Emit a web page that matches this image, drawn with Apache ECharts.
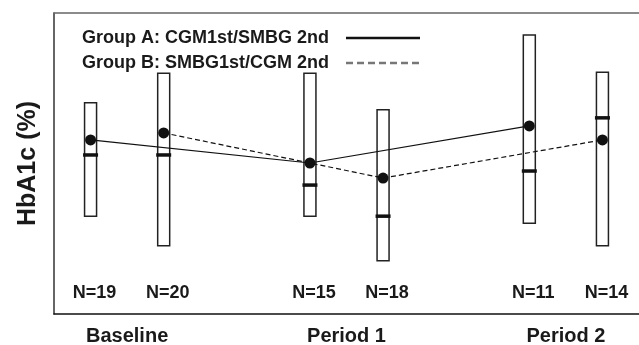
<!DOCTYPE html>
<html>
<head>
<meta charset="utf-8">
<script src="https://cdn.jsdelivr.net/npm/echarts@6/dist/echarts.min.js"></script>
<style>
  html, body { margin: 0; padding: 0; background: #fff; }
  #chart-ctn { width: 639px; height: 345px; }
</style>
</head>
<body>
<div id="chart-ctn"></div>
<script>
// x positions of the six boxes (baseline / period 1 / period 2, two groups each)
var positions = [1, 2, 4, 5, 7, 8];
var groups = ['A', 'B', 'A', 'B', 'A', 'B'];
var boxLow = [6.95, 6.36, 6.95, 6.06, 6.81, 6.36];
var boxHigh = [9.21, 9.80, 9.80, 9.07, 10.56, 9.82];
var medians = [8.17, 8.17, 7.57, 6.95, 7.85, 8.91];
var means = [8.47, 8.61, 8.01, 7.71, 8.75, 8.47];
var nCounts = [19, 20, 15, 18, 11, 14];

var periodTicks = [1.5, 4.5, 7.5];
var periodLabels = ['Baseline', 'Period 1', 'Period 2'];

var nameA = 'Group A: CGM1st/SMBG 2nd';
var nameB = 'Group B: SMBG1st/CGM 2nd';
var nLabelLevel = 5.42;

var font = 'Liberation Sans, Arial, sans-serif';

var boxData = [];
var lineA = [], lineB = [], dots = [], nData = [];
for (var i = 0; i < positions.length; i++) {
  boxData.push([positions[i], boxLow[i], boxHigh[i], medians[i]]);
  dots.push([positions[i], means[i]]);
  nData.push([positions[i], nLabelLevel, nCounts[i]]);
  if (groups[i] == 'A') lineA.push([positions[i], means[i]]);
  else lineB.push([positions[i], means[i]]);
}

var myChart = echarts.init(document.getElementById('chart-ctn'));

var option = {
  animation: false,
  grid: { left: 54, right: 0, top: 13, bottom: 31, outerBoundsMode: 'none', containLabel: false },
  legend: {
    orient: 'vertical',
    left: 77,
    top: 24,
    align: 'right',
    itemWidth: 74,
    itemHeight: 18,
    itemGap: 7,
    textStyle: {
      fontFamily: font, fontWeight: 'bold', fontSize: 18, color: '#1a1a1a',
      padding: [0, 12, 0, 0]
    },
    data: [
      { name: nameA, itemStyle: { opacity: 0 }, lineStyle: { width: 2.5, color: '#111' } },
      { name: nameB, itemStyle: { opacity: 0 }, lineStyle: { width: 2.5, color: '#777', type: [7, 4] } }
    ]
  },
  xAxis: [
    {
      type: 'value', min: 0.5, max: 8.5,
      splitLine: { show: false },
      axisTick: { show: false },
      axisLine: { lineStyle: { color: '#111', width: 1.5 } },
      axisLabel: {
        customValues: periodTicks,
        formatter: function (v) {
          return periodLabels[periodTicks.indexOf(v)];
        },
        margin: 12,
        fontFamily: font, fontWeight: 'bold', fontSize: 20, color: '#1a1a1a'
      }
    },
    {
      type: 'value', min: 0.5, max: 8.5, position: 'top',
      splitLine: { show: false },
      axisTick: { show: false },
      axisLabel: { show: false },
      axisLine: { show: true, lineStyle: { color: '#666', width: 1.5 } }
    }
  ],
  yAxis: {
    type: 'value', min: 5, max: 11,
    splitLine: { show: false },
    axisTick: { show: false },
    axisLabel: { show: false },
    axisLine: { show: true, lineStyle: { color: '#333', width: 1.5 } },
    name: 'HbA1c (%)',
    nameLocation: 'middle',
    nameGap: 13,
    nameRotate: 90,
    nameTextStyle: { fontFamily: font, fontWeight: 'bold', fontSize: 25, color: '#1a1a1a' }
  },
  series: [
    {
      type: 'custom',
      z: 1,
      data: boxData,
      renderItem: function (params, api) {
        var x = api.value(0);
        var top = api.coord([x, api.value(2)]);
        var bot = api.coord([x, api.value(1)]);
        var med = api.coord([x, api.value(3)]);
        var w = 12;
        return {
          type: 'group',
          children: [
            {
              type: 'rect',
              shape: { x: top[0] - w / 2, y: top[1], width: w, height: bot[1] - top[1] },
              style: { fill: 'none', stroke: '#222', lineWidth: 1.5 }
            },
            {
              type: 'line',
              shape: { x1: med[0] - 7.5, y1: med[1], x2: med[0] + 7.5, y2: med[1] },
              style: { stroke: '#111', lineWidth: 3.5 }
            }
          ]
        };
      }
    },
    {
      name: nameA,
      type: 'line',
      z: 2,
      symbol: 'none',
      data: lineA,
      itemStyle: { color: '#111' },
      lineStyle: { color: '#111', width: 1.2 }
    },
    {
      name: nameB,
      type: 'line',
      z: 2,
      symbol: 'none',
      data: lineB,
      itemStyle: { color: '#111' },
      lineStyle: { color: '#111', width: 1.2, type: [5, 3] }
    },
    {
      type: 'scatter',
      z: 3,
      symbolSize: 11,
      itemStyle: { color: '#111', opacity: 1 },
      data: dots
    },
    {
      type: 'scatter',
      z: 3,
      symbolSize: 0,
      itemStyle: { opacity: 1 },
      data: nData,
      label: {
        show: true,
        position: 'inside',
        offset: [4, 0],
        formatter: function (p) { return 'N=' + p.value[2]; },
        fontFamily: font, fontWeight: 'bold', fontSize: 18, color: '#1a1a1a'
      }
    }
  ]
};

myChart.setOption(option);
</script>
</body>
</html>
